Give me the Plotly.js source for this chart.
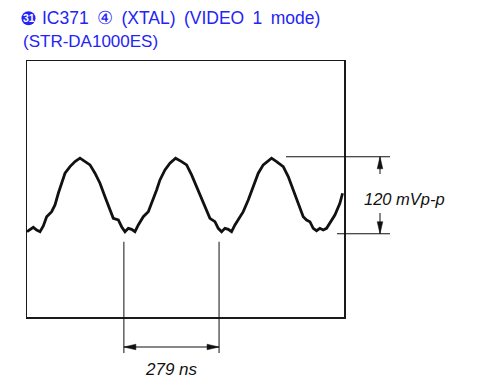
<!DOCTYPE html>
<html>
<head>
<meta charset="utf-8">
<script src="https://cdn.plot.ly/plotly-3.0.1.min.js"></script>
<style>html,body{margin:0;padding:0;background:#fff;}#chart{width:499px;height:388px;}</style>
</head>
<body>
<div id="chart"></div>
<script>
// ---- data (time in ns, voltage in mV relative to trough) ----
const timeNs = [0, 8.8, 18.5, 28.2, 38, 47.7, 57.4, 72, 81.8, 91.5, 101.2, 111, 125.6, 140.2, 154.8, 169.4, 184, 198.6, 213.2, 227.8, 242.4, 252.1, 266.7, 276.4, 286.2, 295.9, 305.6, 315.4, 325.1, 339.7, 354.3, 364, 378.6, 388.4, 403, 417.6, 434.1, 451.6, 466.2, 480.8, 495.4, 510, 524.6, 534.4, 549, 558.7, 568.4, 578.2, 587.9, 597.6, 607.4, 622, 631.7, 646.3, 660.9, 675.5, 690.1, 714.4, 729, 748.5, 763.1, 777.7, 792.3, 806.9, 816.6, 826.4, 836.1, 845.8, 855.6, 865.3, 875, 884.8, 899.4, 914, 921.8];
const voltMv = [-2.7, 1.1, 4.3, 0, -2.7, 6.4, 21.3, 29.3, 40, 58.7, 74.7, 90.7, 101.3, 109.3, 114.7, 109.3, 104, 90.7, 74.7, 53.3, 32, 18.7, 16, 5.3, -2.7, 2.7, 1.1, -2.7, 8, 21.3, 29.3, 42.7, 64, 80, 96, 106.7, 114.7, 109.3, 104, 88, 69.3, 50.7, 32, 18.7, 13.3, 2.7, -2.7, 2.7, 1.1, -2.7, 8, 21.3, 29.3, 48, 69.3, 90.7, 104, 114.7, 109.3, 101.3, 85.3, 64, 42.7, 21.3, 16, 13.3, 2.7, -1.1, 2.7, 0, 2.7, 10.7, 24, 42.7, 58.7];
const markerTimesNs = [283, 561];      // period markers (troughs)
const ampLevelsMv = [117, -6];          // peak-to-peak markers
const periodLabel = '279 ns';
const ampLabel = '120 mVp-p';
const titleLine1 = 'IC371 \u2463 (XTAL) (VIDEO 1 mode)';
const titleLine2 = '(STR-DA1000ES)';
const badgeText = '31';

// ---- layout helpers ----
const xRange = [0, 926], yRange = [-139, 270];
const W = 317, H = 256, ML = 27, MT = 61;
const fx = v => (v - xRange[0]) / (xRange[1] - xRange[0]);
const fy = v => (v - yRange[0]) / (yRange[1] - yRange[0]);
const px = p => (p - ML) / W;          // absolute page x -> paper
const py = p => (MT + H - p) / H;      // absolute page y -> paper
const dX = d => d / W, dY = d => d / H;
const INK = '#111';
const BLUE = 'rgb(36,36,245)';

const shapes = [];
const annotations = [];
function seg(x0, y0, x1, y1, w) {
  shapes.push({type: 'line', xref: 'paper', yref: 'paper', x0, y0, x1, y1,
    line: {color: INK, width: w || 1}});
}
function head(x, y, dir) { // tip at (x,y) paper, dir: 'l','r','u','d'
  const L = 12, hw = 2.8;
  let p;
  if (dir === 'l') p = [[x, y], [x + dX(L), y + dY(hw)], [x + dX(L), y - dY(hw)]];
  if (dir === 'r') p = [[x, y], [x - dX(L), y + dY(hw)], [x - dX(L), y - dY(hw)]];
  if (dir === 'u') p = [[x, y], [x - dX(hw), y - dY(L)], [x + dX(hw), y - dY(L)]];
  if (dir === 'd') p = [[x, y], [x - dX(hw), y + dY(L)], [x + dX(hw), y + dY(L)]];
  shapes.push({type: 'path', xref: 'paper', yref: 'paper',
    path: 'M' + p.map(q => q[0] + ',' + q[1]).join('L') + 'Z',
    fillcolor: INK, line: {color: INK, width: 0.5}});
}

// period markers
const mTop = fy(ampLevelsMv[1]) - dY(8);
const mBot = py(353);
const arrowY = py(347);
markerTimesNs.forEach(t => seg(fx(t), mTop, fx(t), mBot, 1));
seg(fx(markerTimesNs[0]), arrowY, fx(markerTimesNs[1]), arrowY, 1);
head(fx(markerTimesNs[0]), arrowY, 'l');
head(fx(markerTimesNs[1]), arrowY, 'r');
annotations.push({xref: 'paper', yref: 'paper',
  x: (fx(markerTimesNs[0]) + fx(markerTimesNs[1])) / 2, y: py(369),
  xanchor: 'center', yanchor: 'middle', showarrow: false,
  text: '<i>' + periodLabel + '</i>', font: {size: 17, color: INK}});

// amplitude markers
const ampX = px(380);
seg(px(286), fy(ampLevelsMv[0]), px(390), fy(ampLevelsMv[0]), 1);
seg(px(337), fy(ampLevelsMv[1]), px(390), fy(ampLevelsMv[1]), 1);
seg(ampX, fy(ampLevelsMv[0]), ampX, py(174), 1);
seg(ampX, py(213), ampX, fy(ampLevelsMv[1]), 1);
head(ampX, fy(ampLevelsMv[0]), 'u');
head(ampX, fy(ampLevelsMv[1]), 'd');
annotations.push({xref: 'paper', yref: 'paper', x: px(362), y: py(199),
  xanchor: 'left', yanchor: 'middle', showarrow: false,
  text: '<i>' + ampLabel + '</i>', font: {size: 16.5, color: INK}});

// title
shapes.push({type: 'circle', xref: 'paper', yref: 'paper',
  x0: px(21.5), x1: px(35.5), y0: py(25.2), y1: py(11.2),
  fillcolor: BLUE, line: {color: BLUE, width: 0}});
annotations.push({xref: 'paper', yref: 'paper', x: px(28.6), y: py(18.4),
  xanchor: 'center', yanchor: 'middle', showarrow: false,
  text: '<b>' + badgeText + '</b>', font: {size: 10.5, color: '#fff'}});
annotations.push({xref: 'paper', yref: 'paper', x: px(39.5), y: py(18),
  xanchor: 'left', yanchor: 'middle', showarrow: false,
  text: titleLine1.replace(/ /g, '\u00a0\u2009'), font: {size: 17.5, color: BLUE}});
annotations.push({xref: 'paper', yref: 'paper', x: px(21), y: py(41),
  xanchor: 'left', yanchor: 'middle', showarrow: false,
  text: titleLine2, font: {size: 17, color: BLUE}});

const axisBase = {showgrid: false, zeroline: false, showticklabels: false, ticks: '',
  showline: true, mirror: true, linecolor: '#1a1a1a', linewidth: 1.5, fixedrange: true};

Plotly.newPlot('chart', [{
  x: timeNs, y: voltMv, type: 'scatter', mode: 'lines',
  line: {color: INK, width: 2.8, shape: 'linear'}, hoverinfo: 'skip'
}], {
  width: 499, height: 388,
  margin: {l: ML, r: 499 - ML - W, t: MT, b: 388 - MT - H, pad: 0},
  paper_bgcolor: '#fff', plot_bgcolor: '#fff',
  font: {family: 'Arial, "Liberation Sans", Helvetica, sans-serif'},
  showlegend: false,
  xaxis: Object.assign({range: xRange}, axisBase),
  yaxis: Object.assign({range: yRange}, axisBase),
  shapes: shapes, annotations: annotations
}, {staticPlot: true, displayModeBar: false});
</script>
</body>
</html>
